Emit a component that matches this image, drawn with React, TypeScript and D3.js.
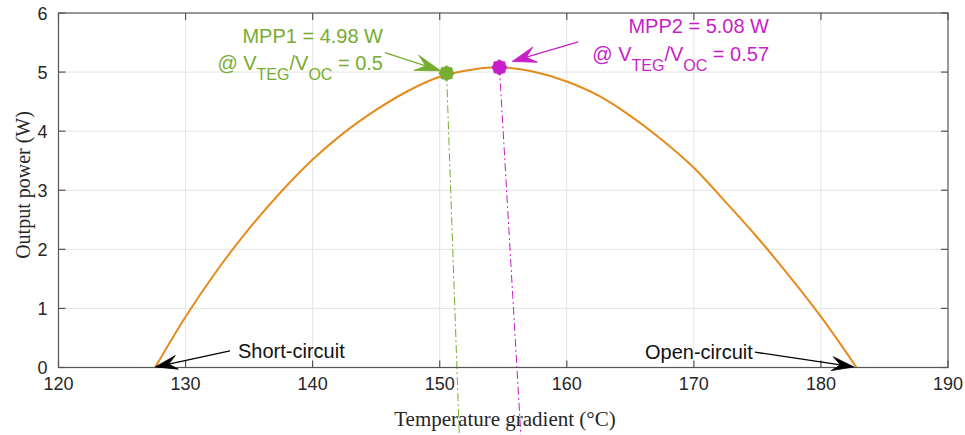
import React from "react";
import * as d3 from "d3";

// Output power of the TEG versus temperature gradient
const temperature = [127.6, 130, 132.5, 135, 137.5, 140, 142.5, 145, 147.5, 150, 152.5, 154.7, 157.5, 160, 162.5, 165, 167.5, 170, 172.5, 175, 177.5, 180, 182.8];
const power = [0, 0.86, 1.65, 2.35, 2.97, 3.52, 3.98, 4.36, 4.68, 4.92, 5.04, 5.08, 5.0, 4.84, 4.6, 4.26, 3.85, 3.38, 2.8, 2.2, 1.55, 0.86, 0];

const xTicks = [120, 130, 140, 150, 160, 170, 180, 190];
const yTicks = [0, 1, 2, 3, 4, 5, 6];

// Maximum power points [temperature, power]
const mpp1 = [150.54, 4.98];
const mpp2 = [154.7, 5.08];

// Projection lines below the MPPs [from, to]
const mpp1Drop = [[150.54, 4.98], [151.55, -1.2]];
const mpp2Drop = [[154.7, 5.08], [156.4, -1.2]];

// Annotation arrows [from, to]
const arrowShort = [[133.49, 0.28], [127.62, 0.01]];
const arrowOpen = [[174.8, 0.26], [182.6, 0.01]];
const arrowMpp1 = [[145.69, 5.33], [150.1, 5.02]];
const arrowMpp2 = [[160.9, 5.51], [155.7, 5.18]];

const W = 965;
const H = 435;
const margin = { left: 58.5, right: 17, top: 13, bottom: 67.5 };

const GREEN = "#77ac30";
const MAGENTA = "#c81ec8";
const ORANGE = "#e68a1c";
const AXIS = "#555555";
const GRID = "#e4e4e4";
const SANS = "'Liberation Sans', Arial, Helvetica, sans-serif";
const SERIF = "'Liberation Serif', 'Times New Roman', Times, serif";

const x = d3.scaleLinear().domain([120, 190]).range([margin.left, W - margin.right]);
const y = d3.scaleLinear().domain([0, 6]).range([H - margin.bottom, margin.top]);

function Arrow({ seg, color, len = 22, half = 7 }: { seg: number[][]; color: string; len?: number; half?: number }) {
  const x0 = x(seg[0][0]), y0 = y(seg[0][1]);
  const x1 = x(seg[1][0]), y1 = y(seg[1][1]);
  const dx = x1 - x0, dy = y1 - y0;
  const d = Math.hypot(dx, dy);
  const ux = dx / d, uy = dy / d;
  const nx = -uy, ny = ux;
  const bx = x1 - len * ux, by = y1 - len * uy;
  const mx = x1 - 0.62 * len * ux, my = y1 - 0.62 * len * uy;
  const head = [
    [x1, y1],
    [bx + half * nx, by + half * ny],
    [mx, my],
    [bx - half * nx, by - half * ny],
  ];
  return (
    <g>
      <line x1={x0} y1={y0} x2={mx} y2={my} stroke={color} strokeWidth={1.3} />
      <path d={(d3.line()(head as [number, number][]) as string) + "Z"} fill={color} stroke={color} strokeWidth={0.8} strokeLinejoin="round" />
    </g>
  );
}

function Marker({ pt, color }: { pt: number[]; color: string }) {
  const n = 16;
  const pts = d3.range(n).map((i) => [(i / n) * 2 * Math.PI, i % 2 === 0 ? 7.8 : 6.6] as [number, number]);
  const shape = d3.lineRadial().curve(d3.curveLinearClosed)(pts) as string;
  return <path d={shape} transform={`translate(${x(pt[0])},${y(pt[1])})`} fill={color} stroke={color} strokeWidth={0.5} />;
}

function MppLabel({ right, base1, base2, title, ratio, color }: { right: number; base1: number; base2: number; title: string; ratio: string; color: string }) {
  return (
    <g fill={color} fontFamily={SANS} fontSize={20} textAnchor="end">
      <text x={right} y={base1}>{title}</text>
      <text x={right} y={base2}>
        @ V<tspan fontSize={16} dy={10}>TEG</tspan>
        <tspan dy={-10}>/V</tspan>
        <tspan fontSize={16} dy={10}>OC</tspan>
        <tspan dy={-10}>{` = ${ratio}`}</tspan>
      </text>
    </g>
  );
}

export default function App() {
  const pts = temperature.map((t, i) => [t, power[i]] as [number, number]);
  const curve = d3
    .line<[number, number]>()
    .x((d) => x(d[0]))
    .y((d) => y(d[1]))
    .curve(d3.curveMonotoneX)(pts) as string;

  const dropLine = (seg: number[][]) =>
    d3.line<number[]>().x((d) => x(d[0])).y((d) => y(d[1]))(seg) as string;

  const [xl, xr] = x.range();
  const [yb, yt] = y.range();
  const tick = 7;

  return (
    <svg width={W} height={H} style={{ position: "absolute", left: 0, top: 0, background: "#fff" }}>
      <rect width={W} height={H} fill="#fff" />
      {/* grid */}
      <g stroke={GRID} strokeWidth={1}>
        {xTicks.slice(1, -1).map((t) => (
          <line key={"gx" + t} x1={x(t)} x2={x(t)} y1={yt} y2={yb} />
        ))}
        {yTicks.slice(1, -1).map((t) => (
          <line key={"gy" + t} x1={xl} x2={xr} y1={y(t)} y2={y(t)} />
        ))}
      </g>

      {/* ticks */}
      <g stroke={AXIS} strokeWidth={1.2}>
        {xTicks.map((t) => (
          <g key={"tx" + t}>
            <line x1={x(t)} x2={x(t)} y1={yb} y2={yb - tick} />
            <line x1={x(t)} x2={x(t)} y1={yt} y2={yt + tick} />
          </g>
        ))}
        {yTicks.map((t) => (
          <g key={"ty" + t}>
            <line x1={xl} x2={xl + tick} y1={y(t)} y2={y(t)} />
            <line x1={xr} x2={xr - tick} y1={y(t)} y2={y(t)} />
          </g>
        ))}
      </g>

      {/* power curve */}
      <path d={curve} fill="none" stroke={ORANGE} strokeWidth={2} />

      {/* projection lines */}
      <path d={dropLine(mpp1Drop)} stroke={GREEN} strokeWidth={1} fill="none" strokeDasharray="8,3,2,3" />
      <path d={dropLine(mpp2Drop)} stroke={MAGENTA} strokeWidth={1} fill="none" strokeDasharray="8,3,2,3" />

      {/* frame */}
      <rect x={xl} y={yt} width={xr - xl} height={yb - yt} fill="none" stroke={AXIS} strokeWidth={1.2} />

      {/* tick labels */}
      <g fontFamily={SANS} fontSize={18} fill="#262626">
        {xTicks.map((t) => (
          <text key={"lx" + t} x={x(t)} y={yb + 22} textAnchor="middle">{t}</text>
        ))}
        {yTicks.map((t) => (
          <text key={"ly" + t} x={xl - 11} y={y(t) + 6.5} textAnchor="end">{t}</text>
        ))}
      </g>

      {/* axis titles */}
      <text x={505} y={426} textAnchor="middle" fontFamily={SERIF} fontSize={21} fill="#262626">
        Temperature gradient (°C)
      </text>
      <text transform="translate(30,185) rotate(-90)" textAnchor="middle" fontFamily={SERIF} fontSize={20} fill="#262626">
        Output power (W)
      </text>

      {/* markers */}
      <Marker pt={mpp1} color={GREEN} />
      <Marker pt={mpp2} color={MAGENTA} />

      {/* annotations */}
      <Arrow seg={arrowMpp1} color={GREEN} len={26} half={8} />
      <Arrow seg={arrowMpp2} color={MAGENTA} len={24} half={8} />
      <Arrow seg={arrowShort} color="#000" len={22} half={7} />
      <Arrow seg={arrowOpen} color="#000" len={22} half={7} />

      <MppLabel right={383} base1={43} base2={70} title="MPP1 = 4.98 W" ratio="0.5" color={GREEN} />
      <MppLabel right={769} base1={33} base2={61} title="MPP2 = 5.08 W" ratio="0.57" color={MAGENTA} />

      <g fontFamily={SANS} fontSize={20} fill="#111">
        <text x={238} y={358}>Short-circuit</text>
        <text x={645} y={359}>Open-circuit</text>
      </g>
    </svg>
  );
}
